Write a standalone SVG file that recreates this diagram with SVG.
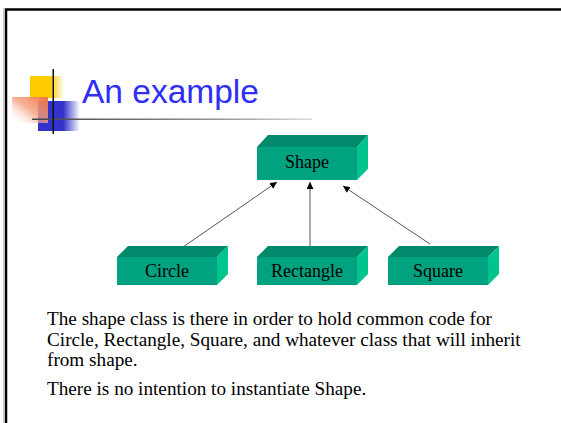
<svg xmlns="http://www.w3.org/2000/svg" width="561" height="423" viewBox="0 0 561 423">
<defs>
<style>
.front{fill:#00a27f}
.top{fill:#00896a}
.side{fill:#00c48e}
.lbl{font-family:"Liberation Serif","Times New Roman",serif;font-size:18px;fill:#000;text-anchor:middle}
.body{font-family:"Liberation Serif","Times New Roman",serif;font-size:19.2px;fill:#000}
.conn{stroke:#555;stroke-width:1;fill:none}
</style>
<marker id="ah" viewBox="0 0 10 10" refX="10" refY="5" markerWidth="7" markerHeight="7" orient="auto" markerUnits="userSpaceOnUse">
<path d="M0,0 L10,5 L0,10 z" fill="#000"/>
</marker>
<linearGradient id="yel" x1="0" y1="0" x2="1" y2="0">
<stop offset="0" stop-color="#ffcc00"/><stop offset="0.6" stop-color="#ffcc00"/><stop offset="1" stop-color="#ffcc00" stop-opacity="0"/>
</linearGradient>
<linearGradient id="blu" x1="0" y1="0" x2="1" y2="0">
<stop offset="0" stop-color="#3333cc"/><stop offset="0.6" stop-color="#3333cc"/><stop offset="1" stop-color="#3333cc" stop-opacity="0"/>
</linearGradient>
<linearGradient id="org" x1="1" y1="0" x2="0" y2="1">
<stop offset="0" stop-color="#f07040"/><stop offset="0.5" stop-color="#f5a080" stop-opacity="0.8"/><stop offset="1" stop-color="#ffffff" stop-opacity="0"/>
</linearGradient>
<linearGradient id="hl" x1="0" y1="0" x2="1" y2="0">
<stop offset="0" stop-color="#444"/><stop offset="0.7" stop-color="#999"/><stop offset="1" stop-color="#ddd"/>
</linearGradient>
</defs>
<rect width="561" height="423" fill="#fff"/>
<g id="frame" fill="none">
<path d="M6,423 L6,9.5 L561,9.5" stroke="#000" stroke-width="2.5"/>
<path d="M3.5,423 L3.5,8" stroke="#ccc" stroke-width="1"/>
</g>
<g id="title-deco">
<rect x="30" y="76" width="34" height="22" fill="url(#yel)"/>
<rect x="38" y="101" width="42" height="30" fill="url(#blu)"/>
<rect x="12" y="97" width="36" height="26" fill="url(#org)"/>
<rect x="32" y="118.5" width="280" height="1.5" fill="url(#hl)"/>
<rect x="52.5" y="69" width="1.5" height="65" fill="#111"/>
</g>
<text id="title" x="82" y="103" font-family="'Liberation Sans',Arial,sans-serif" font-size="33.5" fill="#2e2ef5">An example</text>
<g id="connectors">
<line class="conn" x1="183" y1="247" x2="277" y2="182" marker-end="url(#ah)"/>
<line class="conn" x1="310" y1="247" x2="310" y2="182" marker-end="url(#ah)"/>
<line class="conn" x1="430" y1="244" x2="343" y2="186" marker-end="url(#ah)"/>
</g>
<g id="shape">
<polygon class="top" points="257,147 268,135 368,135 357,147"/>
<polygon class="side" points="357,147 368,135 368,169 357,180"/>
<rect class="front" x="257" y="147" width="100" height="33"/>
<text class="lbl" x="307" y="168">Shape</text>
</g>
<g id="circle">
<polygon class="top" points="117,257 128,246 228,246 217,257"/>
<polygon class="side" points="217,257 228,246 228,274 217,285"/>
<rect class="front" x="117" y="257" width="100" height="28"/>
<text class="lbl" x="167" y="277">Circle</text>
</g>
<g id="rectangle">
<polygon class="top" points="257,257 268,246 368,246 357,257"/>
<polygon class="side" points="357,257 368,246 368,274 357,285"/>
<rect class="front" x="257" y="257" width="100" height="28"/>
<text class="lbl" x="307" y="277">Rectangle</text>
</g>
<g id="square">
<polygon class="top" points="388,257 399,246 499,246 488,257"/>
<polygon class="side" points="488,257 499,246 499,274 488,285"/>
<rect class="front" x="388" y="257" width="100" height="28"/>
<text class="lbl" x="438" y="277">Square</text>
</g>
<g id="body-text">
<text class="body" x="47" y="325">The shape class is there in order to hold common code for</text>
<text class="body" x="47" y="346">Circle, Rectangle, Square, and whatever class that will inherit</text>
<text class="body" x="47" y="366">from shape.</text>
<text class="body" x="47" y="395">There is no intention to instantiate Shape.</text>
</g>
</svg>
